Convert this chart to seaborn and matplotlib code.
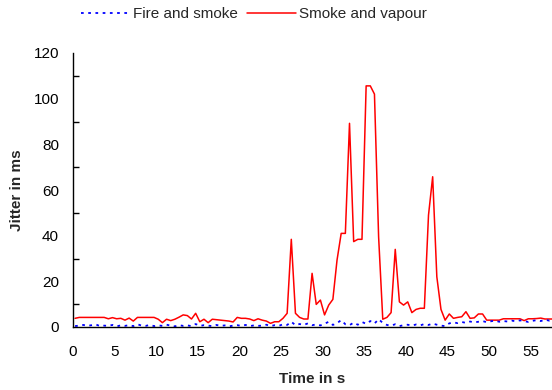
import numpy as np
import pandas as pd
import matplotlib
matplotlib.use("Agg")
import matplotlib.pyplot as plt
import seaborn as sns
from matplotlib.lines import Line2D
from matplotlib.ticker import MultipleLocator

# ---- data ----
time_s = np.arange(0, 58, 0.5) + 0.25  # sample times, 0.5 s step

smoke_vapour = [
    3.8, 4.2, 4.2, 4.2, 4.2, 4.2, 4.2, 4.2, 3.6, 4.1,
    3.6, 3.8, 3.0, 3.9, 2.6, 4.2, 4.2, 4.2, 4.2, 4.2,
    3.4, 1.9, 3.4, 2.8, 3.4, 4.3, 5.3, 5.0, 3.5, 6.0,
    2.3, 3.4, 1.9, 3.4, 3.2, 3.0, 2.8, 2.6, 2.2, 4.2,
    3.8, 3.8, 3.5, 2.8, 3.6, 3.0, 2.6, 1.6, 2.3, 2.3,
    3.8, 6.0, 38.4, 6.0, 4.2, 3.5, 3.5, 23.5, 9.9, 11.8,
    5.3, 9.6, 12.1, 29.3, 41.0, 41.0, 89.2, 37.4, 38.4, 38.4,
    105.6, 105.6, 102.0, 39.5, 3.4, 4.2, 6.3, 34.0, 11.0, 9.6,
    11.0, 6.3, 7.7, 8.2, 8.2, 49.0, 65.8, 22.0, 7.7, 3.0,
    5.7, 3.8, 4.2, 4.5, 6.7, 3.8, 4.0, 5.7, 5.7, 3.0,
    3.0, 3.0, 3.0, 3.6, 3.6, 3.6, 3.6, 3.6, 2.8, 3.6,
    3.6, 3.7, 3.9, 3.5, 3.5, 3.5,
]

fire_smoke = [
    0.4, 0.6, 0.9, 0.5, 0.8, 1.1, 0.4, 0.6, 0.5, 0.9,
    0.3, 0.7, 0.5, 0.8, 0.4, 1.2, 0.6, 0.5, 0.9, 0.4,
    0.7, 0.5, 1.0, 0.6, 0.3, 0.8, 0.5, 0.7, 0.4, 1.3,
    0.5, 0.8, 0.6, 0.4, 0.9, 0.5, 0.7, 0.3, 0.6, 0.8,
    0.5, 0.9, 0.4, 0.7, 0.5, 0.6, 1.0, 0.4, 0.8, 0.5,
    1.2, 0.9, 2.3, 0.8, 1.3, 0.9, 1.6, 0.8, 1.1, 0.7,
    1.4, 2.3, 0.9, 1.7, 3.0, 1.2, 0.8, 1.9, 1.0, 2.2,
    1.4, 2.6, 1.5, 3.4, 1.8, 0.9, 0.6, 1.2, 0.4, 0.8,
    1.0, 0.6, 1.1, 0.7, 1.3, 0.9, 1.5, 1.0, 0.6, 0.4,
    1.6, 2.0, 1.7, 2.2, 1.8, 2.4, 2.0, 2.3, 2.6, 2.1,
    2.5, 2.8, 2.3, 2.6, 2.4, 2.8, 2.5, 2.9, 2.6, 2.2,
    2.7, 3.0, 2.6, 3.2, 2.8, 3.4,
]

series_names = ["Fire and smoke", "Smoke and vapour"]
y_ticks = [0, 20, 40, 60, 80, 100, 120]
x_ticks = list(range(0, 60, 5))

df = pd.DataFrame({
    "time": np.concatenate([time_s, time_s]),
    "jitter": np.concatenate([fire_smoke, smoke_vapour]),
    "series": [series_names[0]] * len(time_s) + [series_names[1]] * len(time_s),
})

sns.set_theme(style="white")
plt.rcParams["font.family"] = ["Liberation Sans", "DejaVu Sans"]

fig = plt.figure(figsize=(5.52, 3.90), dpi=100)
ax = fig.add_axes([73 / 552, 63 / 390, 479 / 552, 274 / 390])

sns.lineplot(data=df[df.series == series_names[1]], x="time", y="jitter",
             color="#ff0000", linewidth=1.1, ax=ax, legend=False)
sns.lineplot(data=df[df.series == series_names[0]], x="time", y="jitter",
             color="#0000ff", linewidth=1.3, ax=ax, legend=False)
ax.lines[1].set_linestyle((0, (1.5, 2.5)))

ax.set_xlim(0, 57.6)
ax.set_ylim(0, 120)
ax.set_xticks(x_ticks)
ax.set_yticks(y_ticks)
ax.yaxis.set_minor_locator(MultipleLocator(10))

for s in ["top", "right"]:
    ax.spines[s].set_visible(False)
for s in ["left", "bottom"]:
    ax.spines[s].set_color("black")
    ax.spines[s].set_linewidth(1.0)

ax.tick_params(axis="x", which="major", direction="in", length=5, width=1,
               color="#555555", pad=13, labelsize=11, labelcolor="black")
ax.tick_params(axis="y", which="major", direction="inout", length=8, width=1,
               color="black", pad=6, labelsize=11, labelcolor="black")
ax.tick_params(axis="y", which="minor", direction="in", length=4, width=1,
               color="black", left=True)

ax.set_xlabel("Time in s", fontsize=11, fontweight="bold", labelpad=9)
ax.set_ylabel("Jitter in ms", fontsize=11, fontweight="bold", labelpad=7)
ax.grid(False)

handles = [
    Line2D([], [], color="#0000ff", linewidth=1.3, linestyle=(0, (1.5, 2.5))),
    Line2D([], [], color="#ff0000", linewidth=1.1),
]
fig.legend(handles, series_names, loc="center", bbox_to_anchor=(0.46, 0.963),
           ncol=2, frameon=False, fontsize=11, handlelength=3.2,
           handletextpad=0.2, columnspacing=0.6)

fig.savefig("out.png", dpi=100)
